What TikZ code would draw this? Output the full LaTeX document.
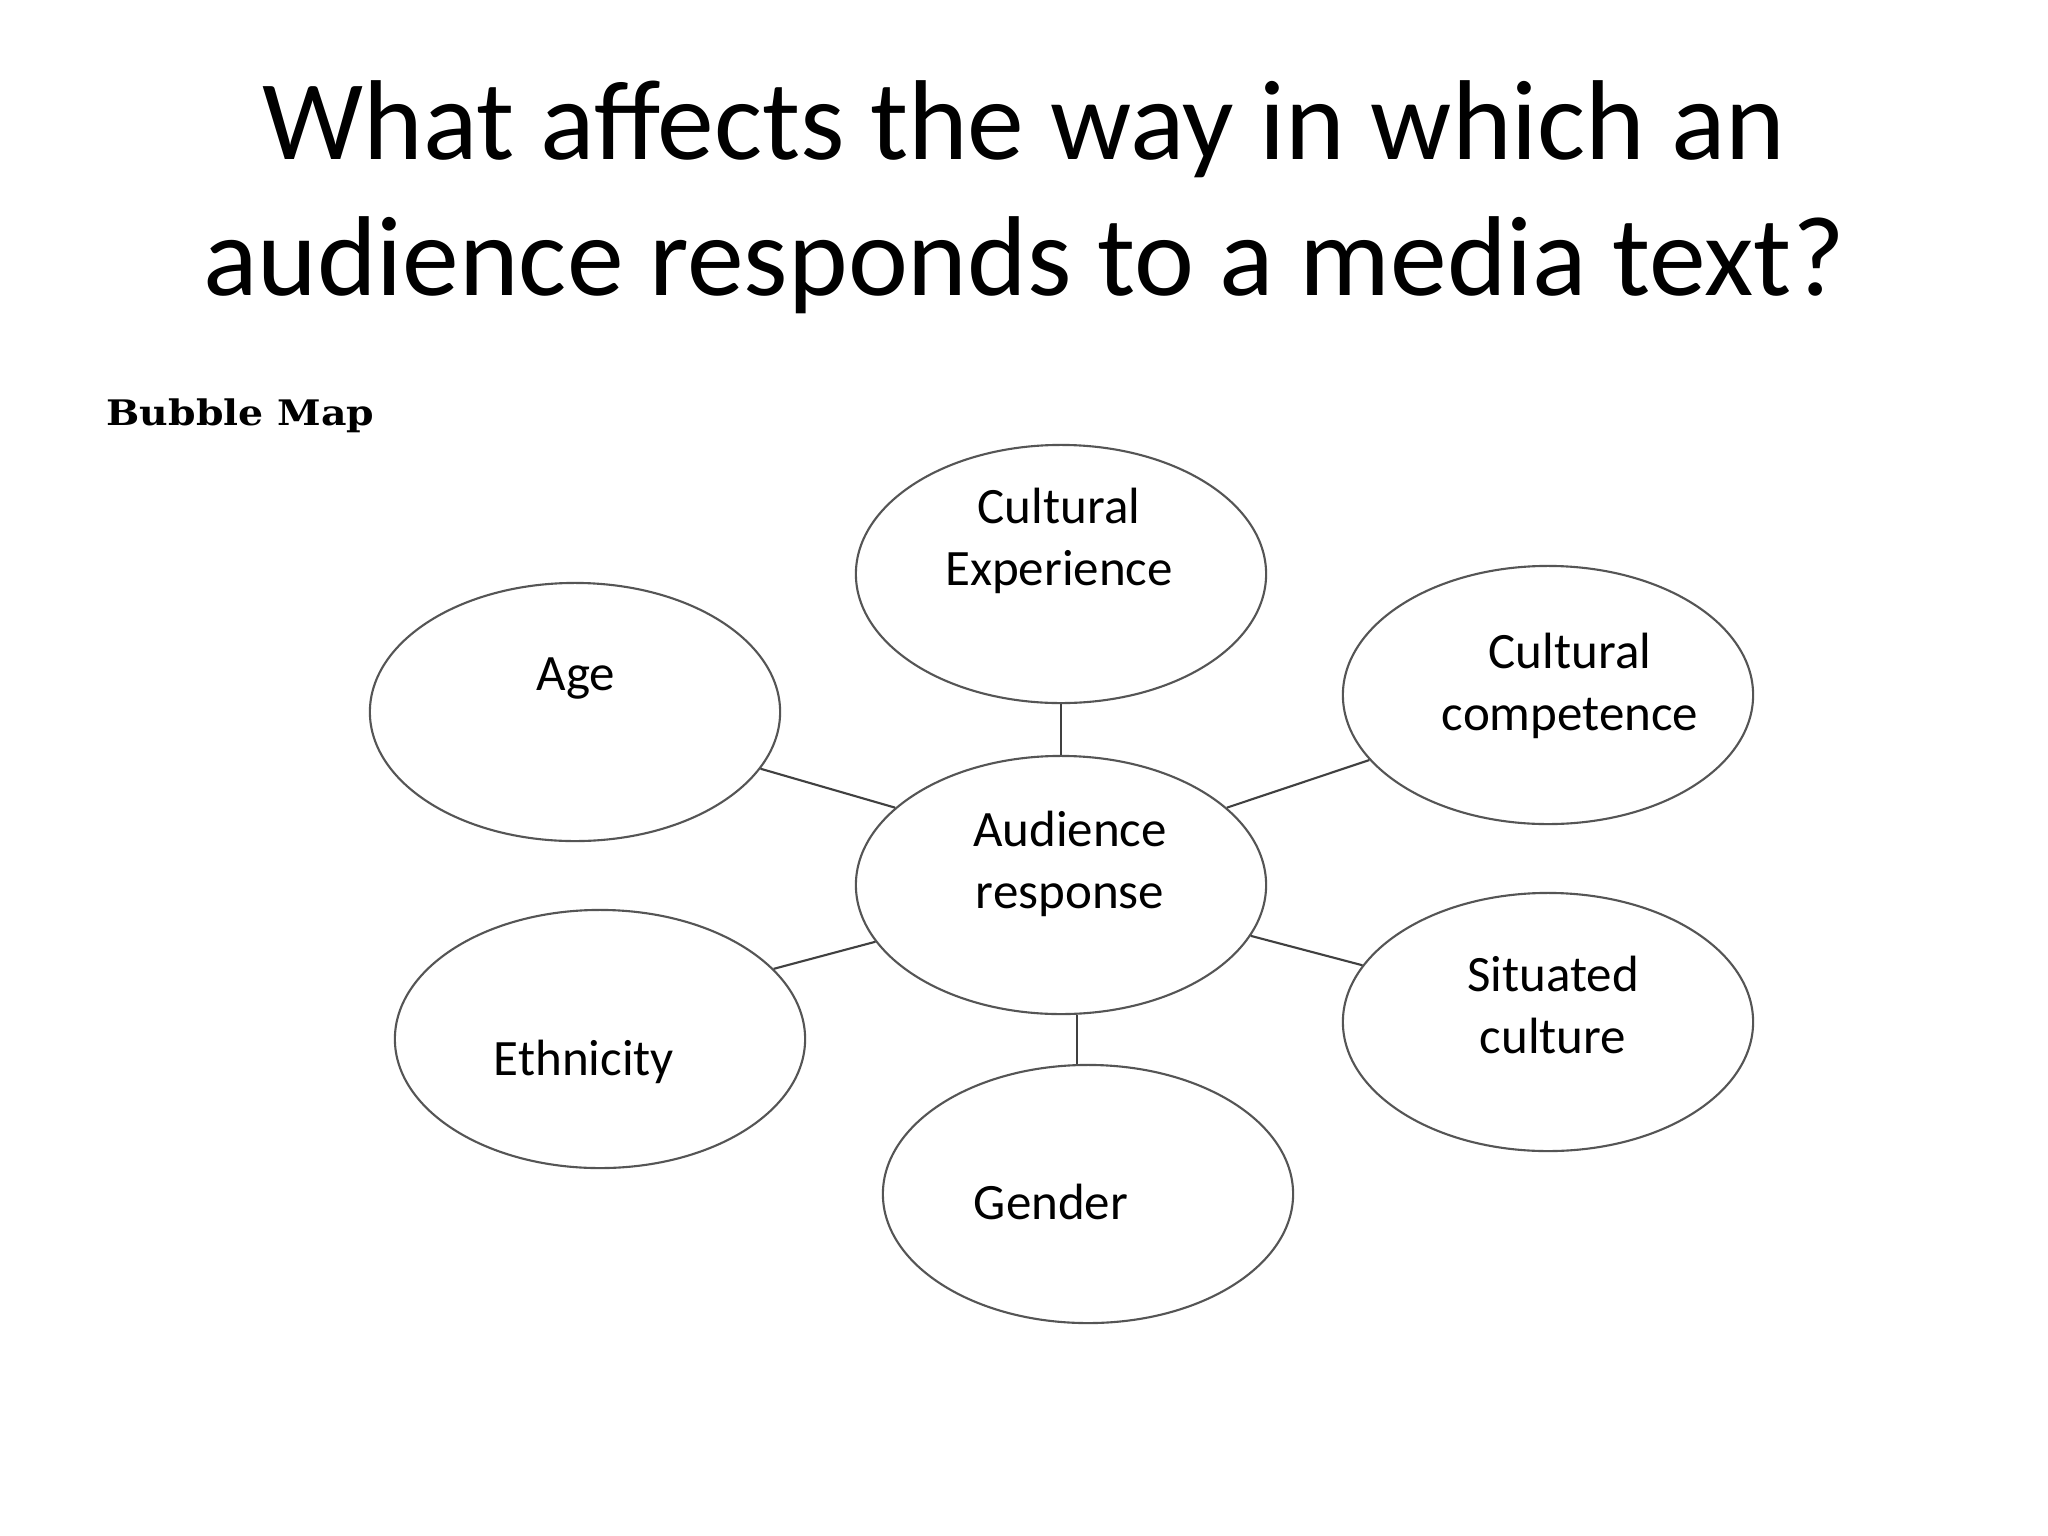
\documentclass[tikz,border=0pt]{standalone}
\usepackage{fontspec}
\setmainfont{Carlito}
\newfontfamily\bubblefont{DejaVu Serif}
\usetikzlibrary{shapes.geometric}
\definecolor{bubblegrey}{HTML}{555555}
\definecolor{linkgrey}{HTML}{404040}
\begin{document}
\begin{tikzpicture}[x=0.01cm,y=-0.01cm,
  bubble/.style={ellipse, draw=bubblegrey, line width=0.6pt, minimum width=4.1cm, minimum height=2.58cm, inner sep=0pt},
  lbl/.style={font=\fontsize{14.5pt}{17.6pt}\selectfont, align=center, anchor=base, inner sep=0pt},
  link/.style={draw=linkgrey, line width=0.6pt}]
\useasboundingbox[fill=white] (0,0) rectangle (2048,1536);

\node[anchor=base, inner sep=0pt, align=center, font=\fontsize{32.3pt}{38.5pt}\selectfont] (title) at (1024,295)
  {What affects the way in which an\\audience responds to a media text?};

\node[anchor=base west, inner sep=0pt] (bm) at (106,425)
  {\bubblefont\bfseries\fontsize{10pt}{12pt}\selectfont\scalebox{1.12}[1]{Bubble Map}};

\node[bubble] (ce)  at (1061,574)  {};
\node[bubble] (age) at (575,712)   {};
\node[bubble] (cc)  at (1548,695)  {};
\node[bubble] (ar)  at (1061,885)  {};
\node[bubble] (eth) at (600,1039)  {};
\node[bubble] (sc)  at (1548,1022) {};
\node[bubble] (gen) at (1088,1194) {};

\node[lbl] (ceT)  at (1059,585)  {Cultural\\Experience};
\node[lbl] (ageT) at (576,690)   {Age};
\node[lbl] (ccT)  at (1570,730)  {Cultural\\competence};
\node[lbl] (arT)  at (1070,908)  {Audience\\response};
\node[lbl] (ethT) at (584,1075)  {Ethnicity};
\node[lbl] (scT)  at (1553,1053) {Situated\\culture};
\node[lbl] (genT) at (1051,1219) {Gender};

\draw[link] (ce.south) -- (ar.north);
\draw[link] (age.-17) -- (ar.155);
\draw[link] (cc.200.6) -- (ar.25);
\draw[link] (eth.22.6) -- (ar.197.4);
\draw[link] (sc.163.8) -- (ar.-15.2);
\draw[link] (ar.-83) -- (ar.-83 |- gen.north);
\end{tikzpicture}
\end{document}
